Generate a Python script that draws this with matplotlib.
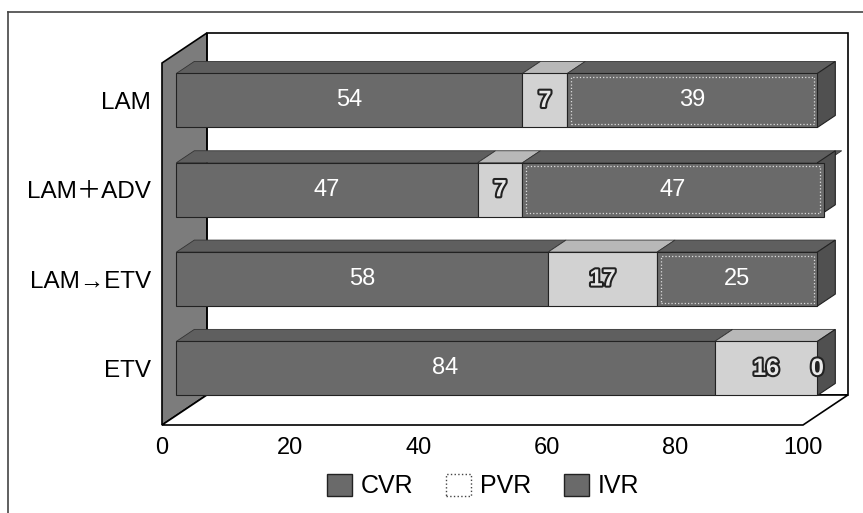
import numpy as np
import matplotlib
matplotlib.use('Agg')
import matplotlib.pyplot as plt
from matplotlib.patches import Polygon, Rectangle, Patch
from matplotlib.lines import Line2D
import matplotlib.patheffects as pe

plt.rcParams['font.family'] = ['Liberation Sans', 'Noto Sans CJK JP', 'DejaVu Sans']

# datos (de arriba hacia abajo)
categorias = ['LAM', 'LAM＋ADV', 'LAM→ETV', 'ETV']
cvr = [54, 47, 58, 84]
pvr = [7, 7, 17, 16]
ivr = [39, 47, 25, 0]
series = ['CVR', 'PVR', 'IVR']
ticks_x = [0, 20, 40, 60, 80, 100]

c_dark = '#6a6a6a'
c_top_dark = '#5f5f5f'
c_side = '#505050'
c_light = '#d2d2d2'
c_top_light = '#b8b8b8'

fig = plt.figure(figsize=(8.63, 5.13), dpi=100)
ax = fig.add_axes([162 / 863, (513 - 425) / 513, 641 / 863, (425 - 63) / 513])
y0, y1 = -0.526, 3.527
ax.set_xlim(0, 100)
ax.set_ylim(y0, y1)

# profundidad del efecto 3D (en unidades de datos)
DX, DY = 7.0, 0.336
f, b = 0.32, 0.72   # frente y fondo de las barras
h = 0.605

# paredes y piso
ax.add_patch(Rectangle((DX, y0 + DY), 100, y1 - y0, facecolor='white',
                       edgecolor='black', lw=1.2, clip_on=False, zorder=1))
ax.add_patch(Polygon([(0, y0), (0, y1), (DX, y1 + DY), (DX, y0 + DY)],
                     facecolor='#7c7c7c', edgecolor='black', lw=1.2,
                     clip_on=False, zorder=1.5))
ax.add_patch(Polygon([(0, y0), (100, y0), (100 + DX, y0 + DY), (DX, y0 + DY)],
                     facecolor='white', edgecolor='black', lw=1.2,
                     clip_on=False, zorder=1.5))

ypos = np.arange(len(categorias))[::-1]
outlined = [pe.withStroke(linewidth=3, foreground='#222222')]

for i, y in enumerate(ypos):
    vals = [cvr[i], pvr[i], ivr[i]]
    starts = np.concatenate([[0], np.cumsum(vals)[:-1]])
    yb, yt = y - h / 2, y + h / 2
    for k, (s, v) in enumerate(zip(starts, vals)):
        e = s + v
        light = (k == 1)
        # cara superior y frontal
        if v > 0:
            ax.add_patch(Polygon([(s + f * DX, yt + f * DY), (e + f * DX, yt + f * DY),
                                  (e + b * DX, yt + b * DY), (s + b * DX, yt + b * DY)],
                                 facecolor=c_top_light if light else c_top_dark,
                                 edgecolor='#333333', lw=0.6, clip_on=False, zorder=3))
            ax.barh(y + f * DY, v, left=s + f * DX, height=h,
                    color=c_light if light else c_dark, edgecolor='#222222',
                    lw=0.8, zorder=4, clip_on=False)
        if k == 2 and v > 0:
            ax.add_patch(Rectangle((s + f * DX + 0.6, yb + f * DY + 0.04), v - 1.2, h - 0.08,
                                   fill=False, edgecolor='#dddddd', lw=0.9, ls=':',
                                   zorder=5, clip_on=False))
        # etiquetas
        cx = s + v / 2 + f * DX
        cy = y + f * DY
        if light or v == 0:
            ax.text(cx, cy, str(v), ha='center', va='center', fontsize=17,
                    fontweight='bold', color='#e8e8e8', path_effects=outlined, zorder=6)
        else:
            ax.text(cx, cy, str(v), ha='center', va='center', fontsize=17,
                    color='white', zorder=6)
    # cara lateral derecha
    ax.add_patch(Polygon([(100 + f * DX, yb + f * DY), (100 + f * DX, yt + f * DY),
                          (100 + b * DX, yt + b * DY), (100 + b * DX, yb + b * DY)],
                         facecolor=c_side, edgecolor='#222222', lw=0.8,
                         clip_on=False, zorder=3.5))

for sp in ax.spines.values():
    sp.set_visible(False)
ax.set_xticks(ticks_x)
ax.set_xticklabels([str(t) for t in ticks_x], fontsize=17)
ax.set_yticks(ypos + f * DY)
ax.set_yticklabels(categorias, fontsize=17.5)
ax.tick_params(axis='x', length=0, pad=9)
ax.tick_params(axis='y', length=0, pad=8)

handles = [Patch(facecolor=c_dark, edgecolor='#222222'),
           Patch(facecolor='white', edgecolor='#444444', ls=':'),
           Patch(facecolor=c_dark, edgecolor='#222222')]
fig.legend(handles, series, loc='center', bbox_to_anchor=(483 / 863, 1 - 486 / 513),
           ncol=3, frameon=False, fontsize=18, handlelength=1.0, handleheight=1.0,
           handletextpad=0.35, columnspacing=1.3)

# marco exterior
fig.add_artist(Line2D([8 / 863, 8 / 863], [0, 1 - 12 / 513], color='#444444', lw=1.2))
fig.add_artist(Line2D([8 / 863, 1], [1 - 12 / 513, 1 - 12 / 513], color='#444444', lw=1.2))

fig.savefig('out.png', dpi=100)
